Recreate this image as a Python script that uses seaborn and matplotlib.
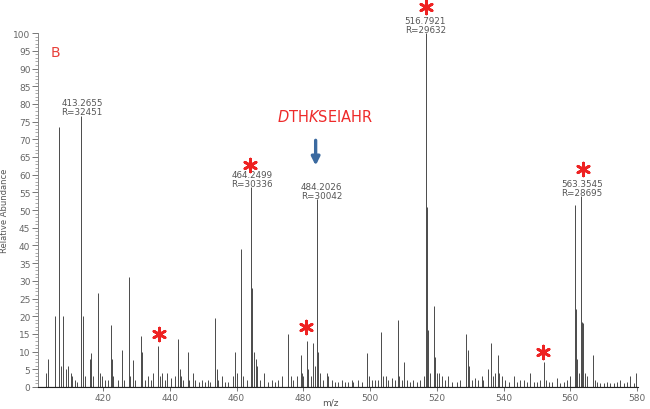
import matplotlib
matplotlib.use("Agg")
import matplotlib.pyplot as plt
import seaborn as sns
import pandas as pd

# peak list (m/z, relative abundance)
mz = [403.0, 403.6, 405.6, 406.8, 407.4, 408.0, 408.8, 409.5, 410.3, 410.6, 411.5, 412.3,
      413.27, 414.1, 414.6, 416.0, 416.4, 417.0, 418.5, 419.0, 419.6, 420.5, 421.5, 422.3,
      422.6, 423.0, 424.5, 425.7, 426.2, 427.8, 428.0, 429.0, 429.6, 431.3, 431.6, 432.5,
      433.5, 434.5, 435.0, 436.6, 437.0, 437.8, 438.5, 439.1, 440.5, 441.5, 442.3, 442.5,
      443.0, 443.3, 444.0, 445.3, 445.8, 446.8, 447.5, 448.8, 449.5, 450.5, 451.5, 452.0,
      453.5, 454.0, 454.5, 455.5, 456.5, 457.5, 458.8, 459.4, 460.0, 461.2, 461.4, 462.0,
      463.0, 464.25, 464.6, 465.1, 465.8, 466.2, 467.0, 468.3, 469.5, 470.5, 471.5, 472.5,
      473.5, 475.5, 476.2, 477.0, 478.0, 479.2, 479.6, 480.0, 481.0, 481.5, 482.2, 483.0,
      483.4, 484.2, 484.5, 485.0, 486.0, 487.0, 487.5, 488.5, 489.5, 490.5, 491.5, 492.5,
      493.5, 494.5, 495.0, 496.5, 497.5, 499.2, 499.6, 500.5, 501.5, 502.5, 503.4, 504.0,
      504.8, 505.5, 506.5, 507.5, 508.4, 508.8, 509.5, 510.3, 511.0, 512.0, 513.0, 514.0,
      515.0, 516.2, 516.79, 517.0, 517.3, 518.0, 519.3, 519.6, 520.2, 520.8, 521.5, 522.5,
      523.5, 524.5, 526.0, 527.0, 528.9, 529.5, 529.8, 530.5, 531.5, 532.5, 533.5, 534.0,
      535.5, 536.3, 536.8, 537.5, 538.4, 538.7, 539.5, 540.5, 541.5, 543.0, 544.0, 545.0,
      546.0, 547.0, 548.0, 549.0, 550.0, 551.0, 552.2, 552.6, 553.5, 554.5, 556.0, 557.0,
      558.0, 559.0, 560.0, 561.4, 561.6, 562.0, 562.5, 563.35, 563.5, 563.9, 564.5, 565.0,
      566.8, 567.3, 568.0, 569.0, 570.0, 571.0, 572.0, 573.0, 574.0, 575.0, 576.0, 577.0,
      578.0, 579.0, 579.8]
intensity = [4, 8, 20, 73.5, 6, 20, 5, 6, 4, 3, 2, 1.5,
             76.5, 20, 3, 8, 9.5, 3, 26.5, 4, 3, 2, 2, 17.5,
             8, 3, 2, 10.5, 2, 31, 3, 7.5, 2, 14.5, 10, 2,
             3, 2, 4, 11.5, 3, 4, 2, 4, 2.5, 3, 13.5, 9.5,
             5, 3, 2, 10, 2, 4, 2, 1.5, 2, 1.5, 2, 1.5,
             19.5, 5, 2, 3, 1.5, 1.5, 3, 10, 4, 39, 25, 3,
             2, 56.5, 28, 10, 8, 6, 2, 4, 1.5, 2, 1.5, 2,
             3, 15, 3, 2, 3, 9, 4, 3, 13, 5, 3, 12.5,
             6, 53, 10, 4, 2, 4, 3, 2, 1.5, 1.5, 2, 1.5,
             1.5, 2, 1.5, 2, 1.5, 9.5, 3, 2, 2, 2, 15.5, 3,
             3, 2, 2.5, 2, 19, 3, 2, 7, 2, 1.5, 2, 1.5,
             2, 3, 100, 51, 16, 4, 23, 8.5, 4, 4, 3, 2,
             3, 1.5, 1.5, 2, 15, 10.5, 6, 2, 2.5, 2, 3, 2,
             5, 12.5, 3, 4, 9, 4, 3, 2, 1.5, 3, 1.5, 2,
             2, 1.5, 4, 1.5, 1.5, 2, 7, 2, 1.5, 1.5, 2.5, 1,
             1.5, 2, 3, 51.5, 22, 8, 4, 54, 18.5, 18, 4, 3,
             9, 2, 1.5, 1, 1, 1.5, 1, 1, 1.5, 2, 1, 1.5,
             3, 1, 4]

# annotated peaks
label_mz = [413.7, 464.6, 485.5, 516.6, 563.5]
label_y = [79.1, 58.8, 55.4, 102.3, 56.2]
label_text = ["413.2655\nR=32451", "464.2499\nR=30336", "484.2026\nR=30042",
              "516.7921\nR=29632", "563.3545\nR=28695"]

# red asterisks
star_mz = [436.7, 464.0, 480.7, 516.9, 551.9, 563.8]
star_y = [15.0, 62.7, 17.0, 107.3, 9.9, 61.6]

df = pd.DataFrame({"mz": mz, "intensity": intensity})
stars = pd.DataFrame({"mz": star_mz, "y": star_y})

sns.set_theme(style="ticks")
plt.rcParams["font.family"] = ["DejaVu Sans"]

fig = plt.figure(figsize=(6.5, 4.1), dpi=100)
ax = fig.add_axes([0.0585, 0.0537, 0.923, 0.863])

ax.vlines(df["mz"], 0, df["intensity"], color="#4a4a4a", linewidth=0.7)
ax.axhline(0, color="#222222", linewidth=0.8)

sns.scatterplot(data=stars, x="mz", y="y", ax=ax, marker=(6, 2, 0), s=85,
                color="#ee2222", edgecolor="#ee2222", linewidth=2.0, clip_on=False,
                zorder=5, legend=False)

for x, y, t in zip(label_mz, label_y, label_text):
    ax.text(x, y, t, ha="center", va="center", fontsize=6.3, color="#555555",
            linespacing=0.9, clip_on=False)

ax.text(486.4, 76.6, r"$\mathit{D}$TH$\mathit{K}$SEIAHR", ha="center", va="center",
        fontsize=10.5, color="#ee2a2a")
ax.annotate("", xy=(483.7, 61.8), xytext=(483.7, 70.5),
            arrowprops=dict(arrowstyle="-|>,head_length=0.4,head_width=0.2",
                            color="#3b6aa0", lw=2.4))
ax.text(405.7, 94.6, "B", ha="center", va="center", fontsize=10, color="#e8403a")

ax.set_xlim(400.5, 580.3)
ax.set_ylim(0, 100)
ax.set_xticks(range(420, 581, 20))
ax.set_yticks(range(0, 101, 5))
ax.set_yticks(range(0, 101, 1), minor=True)
ax.tick_params(axis="both", which="major", labelsize=6.5, labelcolor="#666666",
               color="#777777", length=4, width=0.7, pad=1.5)
ax.tick_params(axis="x", which="major", length=3, pad=1)
ax.tick_params(axis="y", which="minor", color="#888888", length=2, width=0.5)
ax.set_xlabel("m/z", fontsize=6.5, color="#555555", va="center")
ax.xaxis.set_label_coords(0.487, -0.042)
ax.set_ylabel("Relative Abundance", fontsize=6, color="#555555", labelpad=3)

sns.despine(ax=ax)
ax.spines["left"].set_color("#888888")
ax.spines["left"].set_linewidth(0.7)
ax.spines["bottom"].set_color("#222222")
ax.spines["bottom"].set_linewidth(0.8)

fig.savefig("out.png", dpi=100)
